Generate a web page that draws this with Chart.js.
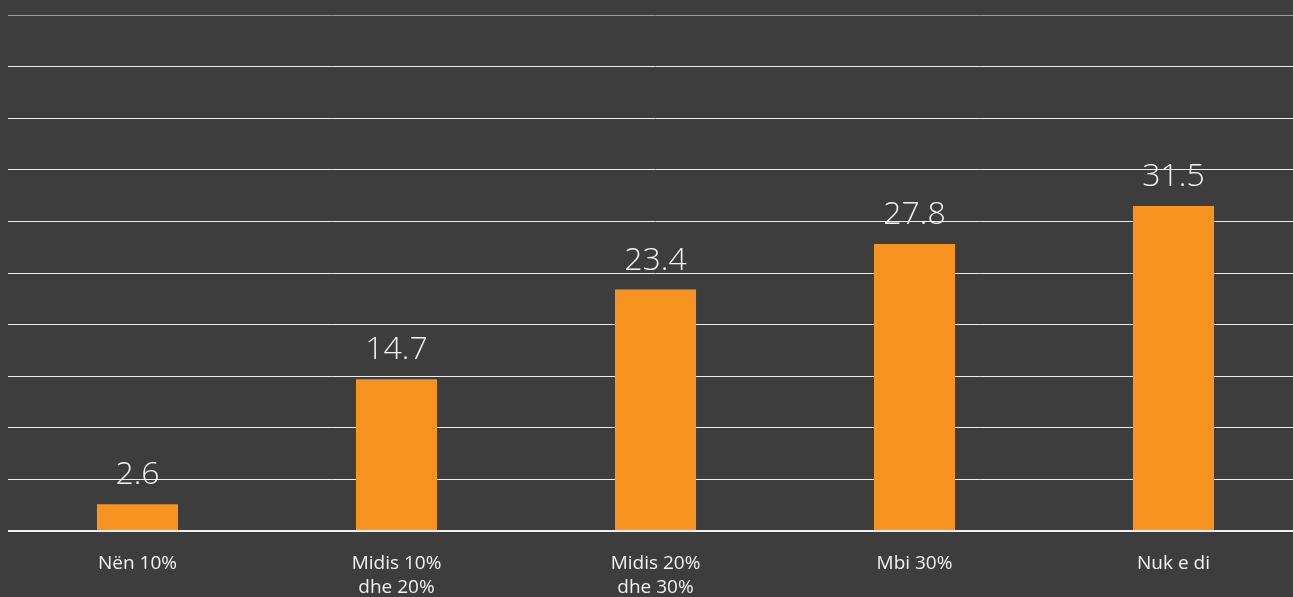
<!DOCTYPE html>
<html>
<head>
<meta charset="utf-8">
<script src="https://cdn.jsdelivr.net/npm/chart.js@4"></script>
<style>
  html, body { margin: 0; padding: 0; background: #3d3d3d; overflow: hidden; }
  #wrap { width: 1303px; height: 597px; }
</style>
</head>
<body>
<div id="wrap"><canvas id="barChart"></canvas></div>
<script>
let categories = [['Nën 10%'], ['Midis 10%', 'dhe 20%'], ['Midis 20%', 'dhe 30%'], ['Mbi 30%'], ['Nuk e di']];
let values = [2.6, 14.7, 23.4, 27.8, 31.5];
let valueLabels = ['2.6', '14.7', '23.4', '27.8', '31.5'];

// draws the number above each bar
let topLabels = {
    id: 'topLabels',
    afterDatasetsDraw: function (chart) {
        let c = chart.ctx;
        let meta = chart.getDatasetMeta(0);
        c.save();
        c.fillStyle = '#f2f2f2';
        c.font = '300 32px "Open Sans"';
        c.textAlign = 'center';
        c.textBaseline = 'bottom';
        meta.data.forEach(function (bar, i) {
            c.fillText(valueLabels[i], bar.x, bar.y - 13);
        });
        c.restore();
    }
};

let ctx = document.getElementById('barChart').getContext('2d');

window.myBar = new Chart(ctx, {
    type: 'bar',
    data: {
        labels: categories,
        datasets: [{
            data: values,
            backgroundColor: '#f7931e',
            borderWidth: 0,
            categoryPercentage: 1,
            barPercentage: 0.313
        }]
    },
    options: {
        responsive: true,
        maintainAspectRatio: false,
        animation: false,
        layout: { padding: { top: 15, left: 8, right: 0, bottom: 0 } },
        plugins: {
            legend: { display: false },
            tooltip: { enabled: false }
        },
        scales: {
            x: {
                grid: { display: false },
                border: { display: false },
                afterFit: function (scale) { scale.height = 66; },
                ticks: {
                    color: '#f2f2f2',
                    font: { family: '"Open Sans"', size: 19, lineHeight: 1.3 },
                    padding: 12,
                    maxRotation: 0
                }
            },
            y: {
                min: 0,
                max: 50,
                ticks: { stepSize: 5, display: false },
                border: { display: false },
                grid: {
                    drawTicks: false,
                    color: function (c) { return c.tick.value === 50 ? '#9a9a9a' : '#f0f0f0'; },
                    lineWidth: function (c) { return c.tick.value === 0 ? 2 : 1; }
                }
            }
        }
    },
    plugins: [topLabels]
});
</script>
</body>
</html>
